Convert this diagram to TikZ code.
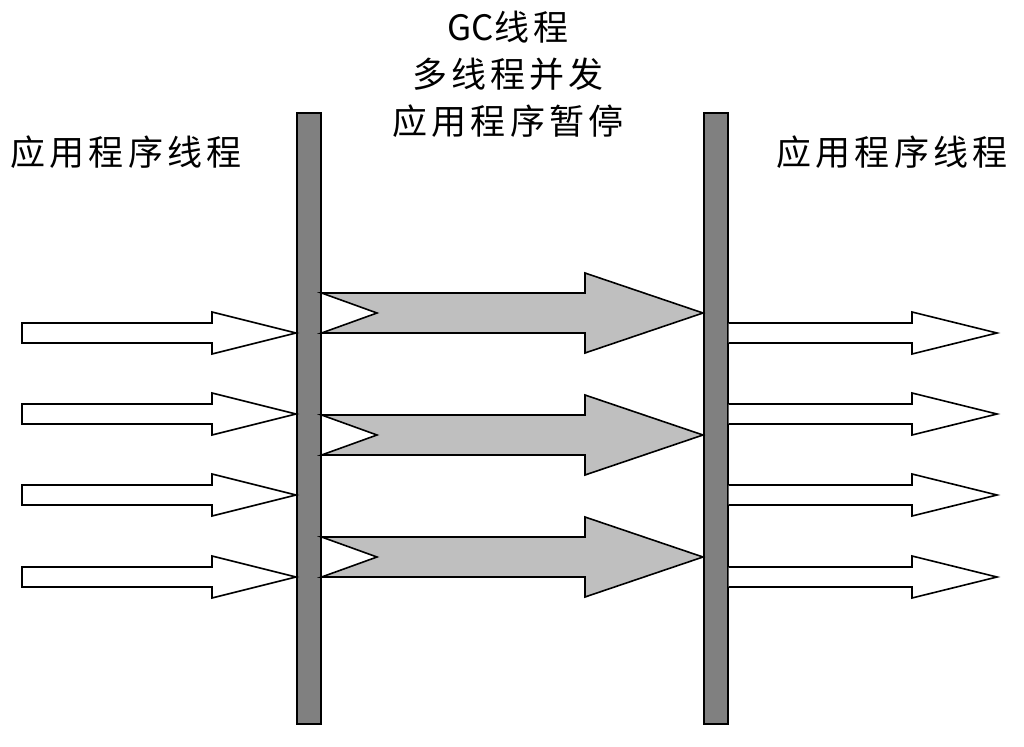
\documentclass[tikz,border=0pt]{standalone}
\usepackage{fontspec}
\usetikzlibrary{calc}
\newfontfamily\cjk{Noto Sans CJK SC}
\begin{document}
\begin{tikzpicture}[x=1pt,y=-1pt,
  barbox/.style={draw=black,line width=1.6pt,fill=black!50},
  wharrow/.style={draw=black,line width=1.6pt,fill=white,line join=miter},
  gyarrow/.style={draw=black,line width=1.6pt,fill=black!25,line join=miter},
  lbl/.style={font=\cjk\fontsize{35}{47}\selectfont\addfontfeature{LetterSpace=12},align=center,inner sep=0pt}]
\useasboundingbox (0,0) rectangle (1024,746);
% white input arrows
\foreach \y [count=\i] in {333,414,495,577}{
  \coordinate (in\i) at (22,\y);
}
% bars
\node[barbox,minimum width=24pt,minimum height=611pt,inner sep=0pt,anchor=north west] (lbar) at (296,112) {};
\node[barbox,minimum width=24pt,minimum height=611pt,inner sep=0pt,anchor=north west] (rbar) at (703,112) {};
\foreach \y [count=\i] in {333,414,495,577}{
  \draw[wharrow] ($(in\i)+(0,-10)$) -- (212,\y-10) -- (212,\y-21) -- (lbar.west |- in\i) -- (212,\y+21) -- (212,\y+10) -- ($(in\i)+(0,10)$) -- cycle;
}
% white output arrows
\foreach \y [count=\i] in {333,414,495,577}{
  \coordinate (out\i) at (997,\y);
  \draw[wharrow] ($(rbar.east |- out\i)+(0,-10)$) -- (912,\y-10) -- (912,\y-21) -- (out\i) -- (912,\y+21) -- (912,\y+10) -- ($(rbar.east |- out\i)+(0,10)$);
}
% grey GC arrows
\foreach \y [count=\i] in {313,435,557}{
  \coordinate (gs\i) at (319,\y);
  \draw[gyarrow] ($(lbar.east |- gs\i)+(0,-20)$) -- (585,\y-20) -- (585,\y-40) -- (rbar.west |- gs\i) -- (585,\y+40) -- (585,\y+20) -- ($(lbar.east |- gs\i)+(0,20)$) -- (377,\y) -- cycle;
}
% labels
\node[lbl] (ltext) at (126,152) {应用程序线程};
\node[lbl] (rtext) at (892,152) {应用程序线程};
\node[lbl] (ctext) at (508,74) {{\addfontfeature{LetterSpace=0}GC}线程\\多线程并发\\应用程序暂停};
\end{tikzpicture}
\end{document}
